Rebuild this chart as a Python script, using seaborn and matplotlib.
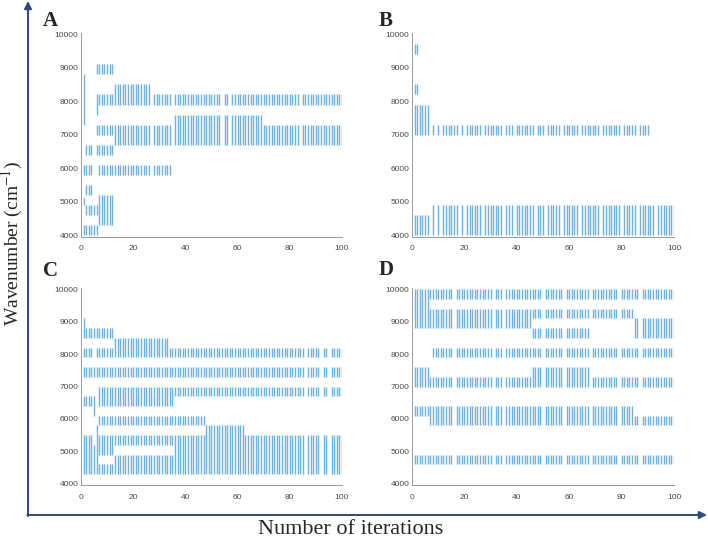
import numpy as np
import pandas as pd
import matplotlib
matplotlib.use("Agg")
import matplotlib.pyplot as plt
import seaborn as sns

# Faixas selecionadas em cada iteracao: (iteracao inicial, iteracao final, numero de onda min, max)
bands_a = [
    (1, 1, 7300, 8800), (1, 4, 5800, 6100), (1, 1, 4900, 5100), (1, 6, 4000, 4300),
    (2, 4, 6400, 6700), (6, 12, 6400, 6700), (2, 4, 5200, 5500), (2, 6, 4600, 4900),
    (6, 12, 8800, 9100), (6, 6, 7600, 8200), (7, 12, 7900, 8200), (13, 26, 7900, 8500),
    (27, 100, 7900, 8200), (6, 12, 7000, 7300), (13, 34, 6700, 7300), (35, 69, 6700, 7600),
    (70, 100, 6700, 7300), (7, 34, 5800, 6100), (7, 12, 4300, 5200),
]
gaps_a = [27, 35, 54, 57, 84]

bands_b = [
    (1, 2, 9400, 9700), (1, 2, 8200, 8500), (1, 6, 7000, 7900),
    (8, 90, 7000, 7300), (1, 6, 4000, 4600), (8, 100, 4000, 4900),
]
gaps_b = [7, 9, 11, 18, 20, 27, 35, 39, 47, 51, 57, 64, 72, 80, 86, 93]

bands_c = [
    (1, 1, 8500, 9100), (2, 12, 8500, 8800), (1, 4, 7900, 8200), (6, 12, 7900, 8200),
    (13, 33, 7900, 8500), (34, 100, 7900, 8200), (1, 100, 7300, 7600), (1, 4, 6400, 6700),
    (5, 5, 6100, 6700), (7, 35, 6400, 7000), (36, 100, 6700, 7000), (7, 47, 5800, 6100),
    (48, 62, 4300, 5800), (63, 100, 4300, 5500), (1, 4, 4300, 5500), (5, 5, 4300, 5200),
    (6, 6, 4300, 5800), (7, 12, 4900, 5500), (7, 12, 4300, 4600), (13, 35, 5200, 5500),
    (13, 35, 4300, 4900), (36, 47, 4300, 5500),
]
gaps_c = [86, 92, 95]

bands_d = [
    (1, 6, 8800, 10000), (7, 100, 9700, 10000), (7, 45, 8800, 9400), (46, 84, 9100, 9400),
    (46, 67, 8500, 8800), (85, 100, 8500, 9100), (8, 100, 7900, 8200), (1, 6, 7000, 7600),
    (7, 45, 7000, 7300), (46, 67, 7000, 7600), (68, 100, 7000, 7300), (1, 6, 6100, 6400),
    (7, 84, 5800, 6400), (85, 100, 5800, 6100), (1, 100, 4600, 4900),
]
gaps_d = [16, 31, 35, 50, 58, 68, 79, 87]

paineis = ["A", "B", "C", "D"]
x_ticks = [0, 20, 40, 60, 80, 100]
y_ticks = [4000, 5000, 6000, 7000, 8000, 9000, 10000]


def segmentos(bands, gaps):
    linhas = []
    for ini, fim, lo, hi in bands:
        for it in range(ini, fim + 1):
            if it not in gaps:
                linhas.append((it, lo, hi))
    return pd.DataFrame(linhas, columns=["iter", "lo", "hi"])


sns.set_style("white")
plt.rcParams["font.family"] = ["Liberation Sans", "DejaVu Sans"]
plt.rcParams["mathtext.fontset"] = "stix"

fig = plt.figure(figsize=(7.08, 5.42), dpi=100)

# eixo de fundo para as setas e rotulos gerais (coordenadas em pixels)
bg = fig.add_axes([0, 0, 1, 1], zorder=0)
bg.set_xlim(0, 708)
bg.set_ylim(542, 0)
bg.axis("off")
cor_seta = "#2c4a7c"
bg.annotate("", xy=(28, 1), xytext=(28, 516),
            arrowprops=dict(arrowstyle="-|>", color=cor_seta, lw=1.4, mutation_scale=11, shrinkA=0, shrinkB=0))
bg.annotate("", xy=(707, 515), xytext=(27.3, 515),
            arrowprops=dict(arrowstyle="-|>", color=cor_seta, lw=1.4, mutation_scale=11, shrinkA=0, shrinkB=0))
bg.text(12, 243, "Wavenumber (cm$^{-1}$)", rotation=90, ha="center", va="center",
        fontsize=14, family="Liberation Serif")
bg.text(351, 530, "Number of iterations", ha="center", va="center",
        fontsize=16, family="Liberation Serif")

posicoes = [
    [0.1144, 0.5633, 0.3686, 0.3766],
    [0.5819, 0.5633, 0.3701, 0.3766],
    [0.1144, 0.1044, 0.3686, 0.3648],
    [0.5819, 0.1044, 0.3701, 0.3648],
]
letras_xy = [(50, 21), (386, 21), (50, 271), (386, 270)]
dados = [(bands_a, gaps_a), (bands_b, gaps_b), (bands_c, gaps_c), (bands_d, gaps_d)]

for nome, pos, (bands, gaps), (lx, ly) in zip(paineis, posicoes, dados, letras_xy):
    ax = fig.add_axes(pos, zorder=1)
    ax.patch.set_alpha(0)
    seg = segmentos(bands, gaps)
    ax.vlines(seg["iter"], seg["lo"], seg["hi"], color="#6cb2e3", lw=1.0)
    ax.set_xlim(0, 100)
    ax.set_ylim(3950, 10050)
    ax.set_xticks(x_ticks)
    ax.set_yticks(y_ticks)
    sns.despine(ax=ax)
    for s in ["left", "bottom"]:
        ax.spines[s].set_color("#9a9a9a")
        ax.spines[s].set_linewidth(0.7)
    ax.tick_params(direction="in", length=2.5, width=0.6, color="#9a9a9a",
                   labelsize=6, labelcolor="#4a4a4a")
    ax.tick_params(axis="x", pad=6)
    ax.tick_params(axis="y", pad=2)
    bg.text(lx, ly, nome, ha="center", va="center", fontsize=15,
            fontweight="bold", family="Liberation Serif")

fig.savefig("out.png", dpi=100)
